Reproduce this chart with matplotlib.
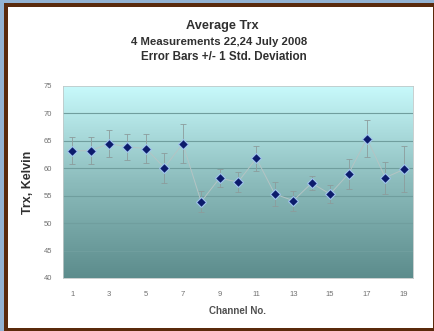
import matplotlib
matplotlib.use("Agg")
import matplotlib.pyplot as plt
import numpy as np
from matplotlib.patches import Rectangle
from matplotlib.colors import LinearSegmentedColormap

channels = list(range(1, 20))
trx = [63.2, 63.2, 64.5, 63.9, 63.6, 60.1, 64.5, 53.9, 58.2, 57.5,
       61.8, 55.3, 54.1, 57.3, 55.3, 59.0, 65.4, 58.3, 59.8]
std = [2.5, 2.5, 2.4, 2.4, 2.6, 2.7, 3.5, 1.9, 1.7, 1.8,
       2.3, 2.2, 1.8, 1.3, 1.7, 2.7, 3.4, 2.9, 4.2]
xtick_labels = [1, 3, 5, 7, 9, 11, 13, 15, 17, 19]
ytick_vals = [40, 45, 50, 55, 60, 65, 70, 75]

plt.rcParams['font.family'] = ['Liberation Sans', 'DejaVu Sans']

W, H = 434, 331
fig = plt.figure(figsize=(W / 100, H / 100), dpi=100)
fig.patch.set_facecolor('#93b3d3')
fig.patches.append(Rectangle((4 / W, 0), 1 - 4 / W, 1 - 3 / H, transform=fig.transFigure,
                             facecolor='#5a2a0c', edgecolor='none', zorder=0))
fig.patches.append(Rectangle((8 / W, 3 / H), (433 - 8) / W, 1 - 10 / H, transform=fig.transFigure,
                             facecolor='white', edgecolor='none', zorder=0))

ax = fig.add_axes([63 / W, 1 - 278 / H, (413 - 63) / W, (278 - 86) / H])
ax.set_zorder(2)

cmap = LinearSegmentedColormap.from_list('bg', ['#5c8c8c', '#8cbcbc', '#c8fafc'])
grad = np.linspace(0, 1, 256).reshape(-1, 1)
ax.imshow(grad, extent=[0, 1, 0, 1], transform=ax.transAxes, aspect='auto',
          cmap=cmap, origin='lower', zorder=0)

for v in ytick_vals[1:-1]:
    ax.axhline(v, color='#709e9e', lw=0.8, zorder=1)

ax.errorbar(channels, trx, yerr=std, fmt='none', ecolor='#8c9c9c', elinewidth=0.6,
            capsize=2, capthick=0.6, zorder=2)
ax.plot(channels, trx, color='#b4c4c4', lw=0.7, zorder=3)
ax.plot(channels, trx, linestyle='none', marker='D', markersize=5.5,
        markerfacecolor='#0c1c6c', markeredgecolor='#a0c4ec', markeredgewidth=0.8, zorder=4)

ax.set_xlim(0.5, 19.5)
ax.set_ylim(40, 75)
ax.set_xticks(xtick_labels)
ax.set_xticklabels([str(v) for v in xtick_labels])
ax.set_yticks(ytick_vals)
ax.tick_params(axis='both', labelsize=5.5, labelcolor='#707070', length=0)
ax.tick_params(axis='y', pad=8)
ax.tick_params(axis='x', pad=9)
for s in ax.spines.values():
    s.set_color('#c0c8c8')
    s.set_linewidth(0.6)

ax.set_ylabel('Trx, Kelvin', fontsize=9, fontweight='bold', color='#303030', labelpad=7)
ax.set_xlabel('Channel No.', fontsize=7, fontweight='bold', color='#505050', labelpad=6)

fig.text(222 / W, 1 - 26 / H, 'Average Trx', ha='center', va='center',
         fontsize=9.2, fontweight='bold', color='#303030')
fig.text(219 / W, 1 - 42 / H, '4 Measurements 22,24 July 2008', ha='center', va='center',
         fontsize=8.2, fontweight='bold', color='#303030')
fig.text(224 / W, 1 - 57 / H, 'Error Bars +/- 1 Std. Deviation', ha='center', va='center',
         fontsize=8.4, fontweight='bold', color='#303030')

fig.savefig('out.png', dpi=100, facecolor=fig.get_facecolor())
